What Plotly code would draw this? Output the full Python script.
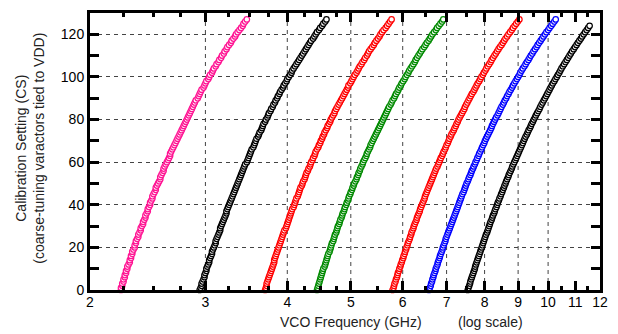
import plotly.graph_objects as go

# Calibration setting codes (y axis)
cs = list(range(128))

# VCO frequency (GHz) read for each calibration setting, one list per band
f_pink = [2.23,2.23,2.24,2.24,2.25,2.25,2.26,2.26, 2.27,2.27,2.28,2.28,2.29,2.30,2.30,2.31,
          2.31,2.32,2.32,2.33,2.34,2.34,2.35,2.35, 2.36,2.37,2.37,2.38,2.39,2.39,2.40,2.41,
          2.41,2.42,2.43,2.43,2.44,2.45,2.45,2.46, 2.47,2.47,2.48,2.49,2.49,2.50,2.51,2.52,
          2.52,2.53,2.54,2.55,2.56,2.56,2.57,2.58, 2.59,2.59,2.60,2.61,2.62,2.63,2.64,2.65,
          2.65,2.66,2.67,2.68,2.69,2.70,2.71,2.72, 2.73,2.74,2.75,2.76,2.77,2.78,2.79,2.80,
          2.81,2.82,2.83,2.84,2.85,2.86,2.87,2.88, 2.89,2.90,2.92,2.93,2.94,2.95,2.96,2.98,
          2.99,3.00,3.01,3.03,3.04,3.05,3.07,3.08, 3.09,3.11,3.12,3.14,3.15,3.17,3.18,3.20,
          3.21,3.23,3.24,3.26,3.28,3.29,3.31,3.33, 3.34,3.36,3.38,3.40,3.42,3.43,3.45,3.47]

f_black1 = [2.94,2.95,2.96,2.96,2.97,2.98,2.99,2.99, 3.00,3.01,3.01,3.02,3.03,3.04,3.04,3.05,
            3.06,3.07,3.07,3.08,3.09,3.10,3.11,3.11, 3.12,3.13,3.14,3.15,3.16,3.16,3.17,3.18,
            3.19,3.20,3.21,3.22,3.23,3.23,3.24,3.25, 3.26,3.27,3.28,3.29,3.30,3.31,3.32,3.33,
            3.34,3.35,3.36,3.37,3.38,3.39,3.40,3.41, 3.42,3.43,3.44,3.45,3.47,3.48,3.49,3.50,
            3.51,3.52,3.53,3.55,3.56,3.57,3.58,3.59, 3.61,3.62,3.63,3.65,3.66,3.67,3.68,3.70,
            3.71,3.73,3.74,3.75,3.77,3.78,3.80,3.81, 3.83,3.84,3.86,3.87,3.89,3.90,3.92,3.94,
            3.95,3.97,3.99,4.00,4.02,4.04,4.06,4.07, 4.09,4.11,4.13,4.15,4.17,4.19,4.21,4.23,
            4.25,4.27,4.29,4.31,4.33,4.35,4.38,4.40, 4.42,4.44,4.47,4.49,4.52,4.54,4.57,4.59]

f_red1 = [3.70,3.71,3.72,3.72,3.73,3.74,3.75,3.76, 3.77,3.78,3.79,3.80,3.81,3.82,3.82,3.83,
          3.84,3.85,3.86,3.87,3.88,3.89,3.90,3.91, 3.92,3.93,3.94,3.95,3.96,3.98,3.99,4.00,
          4.01,4.02,4.03,4.04,4.05,4.06,4.07,4.09, 4.10,4.11,4.12,4.13,4.15,4.16,4.17,4.18,
          4.19,4.21,4.22,4.23,4.25,4.26,4.27,4.28, 4.30,4.31,4.33,4.34,4.35,4.37,4.38,4.40,
          4.41,4.42,4.44,4.46,4.47,4.49,4.50,4.52, 4.53,4.55,4.56,4.58,4.60,4.61,4.63,4.65,
          4.66,4.68,4.70,4.72,4.73,4.75,4.77,4.79, 4.81,4.83,4.85,4.87,4.89,4.91,4.93,4.95,
          4.96,4.99,5.01,5.03,5.05,5.07,5.10,5.12, 5.14,5.16,5.19,5.21,5.24,5.26,5.29,5.31,
          5.33,5.36,5.39,5.42,5.44,5.47,5.50,5.53, 5.55,5.58,5.61,5.65,5.68,5.71,5.74,5.77]

f_green = [4.44,4.45,4.46,4.47,4.48,4.49,4.50,4.51, 4.52,4.53,4.54,4.56,4.57,4.58,4.59,4.60,
           4.61,4.62,4.64,4.65,4.66,4.67,4.68,4.70, 4.71,4.72,4.73,4.75,4.76,4.77,4.78,4.80,
           4.81,4.82,4.84,4.85,4.86,4.88,4.89,4.90, 4.92,4.93,4.95,4.96,4.97,4.99,5.00,5.02,
           5.03,5.05,5.06,5.08,5.10,5.11,5.13,5.14, 5.16,5.17,5.19,5.21,5.22,5.24,5.26,5.28,
           5.29,5.31,5.33,5.35,5.36,5.38,5.40,5.42, 5.44,5.46,5.48,5.50,5.52,5.54,5.56,5.58,
           5.60,5.62,5.64,5.66,5.68,5.70,5.72,5.75, 5.77,5.79,5.82,5.84,5.86,5.89,5.91,5.93,
           5.96,5.98,6.01,6.04,6.06,6.09,6.12,6.14, 6.17,6.20,6.23,6.26,6.28,6.31,6.34,6.37,
           6.40,6.43,6.47,6.50,6.53,6.57,6.60,6.63, 6.66,6.70,6.74,6.77,6.81,6.85,6.89,6.92]

f_red2 = [5.79,5.81,5.82,5.83,5.85,5.86,5.88,5.89, 5.90,5.92,5.93,5.95,5.96,5.98,5.99,6.01,
          6.02,6.04,6.05,6.07,6.08,6.10,6.11,6.13, 6.15,6.16,6.18,6.19,6.21,6.23,6.24,6.26,
          6.28,6.30,6.31,6.33,6.35,6.37,6.38,6.40, 6.42,6.44,6.46,6.48,6.49,6.51,6.53,6.55,
          6.57,6.59,6.61,6.63,6.65,6.67,6.69,6.71, 6.73,6.75,6.78,6.80,6.82,6.84,6.86,6.89,
          6.91,6.93,6.96,6.98,7.00,7.03,7.05,7.07, 7.10,7.12,7.15,7.18,7.20,7.23,7.25,7.28,
          7.30,7.33,7.36,7.39,7.42,7.45,7.47,7.50, 7.53,7.56,7.59,7.62,7.65,7.69,7.72,7.75,
          7.78,7.81,7.85,7.88,7.91,7.95,7.98,8.02, 8.05,8.09,8.13,8.17,8.20,8.24,8.28,8.32,
          8.36,8.40,8.44,8.49,8.53,8.57,8.61,8.66, 8.70,8.75,8.80,8.84,8.89,8.94,8.99,9.04]

f_blue = [6.58,6.60,6.62,6.63,6.65,6.66,6.68,6.69, 6.71,6.73,6.74,6.76,6.78,6.79,6.81,6.83,
          6.84,6.86,6.88,6.90,6.91,6.93,6.95,6.97, 6.98,7.00,7.02,7.04,7.06,7.08,7.10,7.12,
          7.14,7.16,7.18,7.20,7.22,7.24,7.26,7.28, 7.30,7.32,7.34,7.36,7.38,7.40,7.43,7.45,
          7.47,7.49,7.51,7.54,7.56,7.58,7.61,7.63, 7.65,7.68,7.70,7.73,7.75,7.78,7.80,7.83,
          7.85,7.88,7.91,7.93,7.96,7.99,8.01,8.04, 8.07,8.10,8.13,8.16,8.19,8.21,8.24,8.27,
          8.30,8.33,8.37,8.40,8.43,8.46,8.49,8.53, 8.56,8.59,8.63,8.66,8.70,8.73,8.77,8.81,
          8.84,8.88,8.92,8.96,9.00,9.04,9.07,9.11, 9.15,9.20,9.24,9.28,9.33,9.37,9.41,9.46,
          9.50,9.55,9.60,9.64,9.69,9.74,9.79,9.84, 9.89,9.94,10.00,10.05,10.11,10.16,10.22,10.27]

# last band: readings stop at CS = 124
f_black2 = [7.54,7.56,7.58,7.60,7.61,7.63,7.65,7.67, 7.69,7.71,7.73,7.74,7.76,7.78,7.80,7.82,
            7.84,7.86,7.88,7.90,7.92,7.94,7.96,7.98, 8.00,8.02,8.04,8.07,8.09,8.11,8.13,8.15,
            8.17,8.20,8.22,8.24,8.27,8.29,8.31,8.34, 8.36,8.38,8.41,8.43,8.46,8.48,8.51,8.53,
            8.56,8.58,8.61,8.63,8.66,8.69,8.71,8.74, 8.77,8.80,8.82,8.85,8.88,8.91,8.94,8.97,
            9.00,9.03,9.06,9.09,9.12,9.15,9.18,9.21, 9.24,9.28,9.31,9.34,9.38,9.41,9.44,9.48,
            9.51,9.55,9.58,9.62,9.66,9.70,9.73,9.77, 9.81,9.85,9.89,9.93,9.97,10.01,10.05,10.09,
            10.13,10.17,10.22,10.26,10.31,10.35,10.40,10.44, 10.48,10.53,10.58,10.63,10.68,10.73,10.78,10.83,
            10.88,10.94,10.99,11.05,11.10,11.16,11.22,11.27, 11.33,11.39,11.45,11.51,11.57]

x_ticks = [2, 3, 4, 5, 6, 7, 8, 9, 10, 11, 12]
x_minor = [2.25, 2.5, 2.75, 3.25, 3.5, 3.75, 4.25, 4.5, 4.75, 5.5, 6.5, 7.5, 8.5, 9.5, 10.5, 11.5]
x_grid = [3, 4, 5, 6, 7, 8, 9, 10]
y_ticks = [0, 20, 40, 60, 80, 100, 120]
y_minor = [10, 30, 50, 70, 90, 110]
y_span = [0, 130]

series = [
    (f_pink, "#ff1493"),
    (f_black1, "#000000"),
    (f_red1, "#ff0000"),
    (f_green, "#008a00"),
    (f_red2, "#ff0000"),
    (f_blue, "#0000ff"),
    (f_black2, "#000000"),
]

FONT = "Liberation Sans, Arial, Helvetica, sans-serif"

fig = go.Figure()

# dashed vertical grid lines (drawn through the x scale)
gx, gy = [], []
for v in x_grid:
    gx += [v, v, None]
    gy += [y_span[0], y_span[1], None]
fig.add_trace(go.Scatter(x=gx, y=gy, mode="lines",
                         line=dict(color="#444444", width=1, dash="4px,4px"),
                         showlegend=False, hoverinfo="skip"))

for freqs, col in series:
    fig.add_trace(go.Scatter(
        x=freqs, y=cs[:len(freqs)], mode="markers",
        marker=dict(symbol="circle", size=5.5, color="white",
                    line=dict(color=col, width=1.2)),
        showlegend=False, hoverinfo="skip", cliponaxis=False,
    ))

import math
xr = [math.log10(2), math.log10(12)]

fig.update_layout(
    width=618, height=334,
    margin=dict(l=90, r=16, t=10, b=44),
    paper_bgcolor="white", plot_bgcolor="white",
    font=dict(family=FONT, size=14, color="black"),
    xaxis=dict(
        type="log", range=xr,
        tickmode="array", tickvals=x_ticks, ticktext=[str(v) for v in x_ticks],
        showgrid=False, zeroline=False,
        showline=True, linecolor="black", linewidth=3, mirror="allticks",
        ticks="inside", ticklen=9, tickwidth=3, tickcolor="black",
        minor=dict(tickvals=x_minor, ticks="inside",
                   ticklen=4, tickwidth=3, tickcolor="black", showgrid=False),
        tickfont=dict(family=FONT, size=14, color="black"),
        ticklabelstandoff=-3,
    ),
    yaxis=dict(
        range=y_span,
        tickmode="array", tickvals=y_ticks,
        showgrid=True, gridcolor="#444444", gridwidth=1, griddash="4px,4px",
        zeroline=False,
        showline=True, linecolor="black", linewidth=3, mirror="allticks",
        ticks="inside", ticklen=9, tickwidth=3, tickcolor="black",
        minor=dict(tickvals=y_minor, ticks="inside",
                   ticklen=9, tickwidth=3, tickcolor="black", showgrid=False),
        tickfont=dict(family=FONT, size=14, color="black"),
    ),
)

fig.add_annotation(
    text="Calibration Setting (CS)<br>(coarse-tuning varactors tied to VDD)",
    xref="paper", yref="paper", x=(29 - 90) / 512, y=(290 - 147) / 280,
    xanchor="center", yanchor="middle", textangle=-90, showarrow=False,
    font=dict(family=FONT, size=14, color="#222222"),
)
fig.add_annotation(
    text="VCO Frequency (GHz)",
    xref="paper", yref="paper", x=(352 - 90) / 512, y=(290 - 322) / 280,
    xanchor="center", yanchor="middle", showarrow=False,
    font=dict(family=FONT, size=14, color="#222222"),
)
fig.add_annotation(
    text="(log scale)",
    xref="paper", yref="paper", x=(492 - 90) / 512, y=(290 - 322) / 280,
    xanchor="center", yanchor="middle", showarrow=False,
    font=dict(family=FONT, size=14, color="#222222"),
)

fig.write_html("out.html",
               config={"displayModeBar": False, "staticPlot": True},
               post_script="document.body.style.margin='0';document.body.style.padding='0';")
